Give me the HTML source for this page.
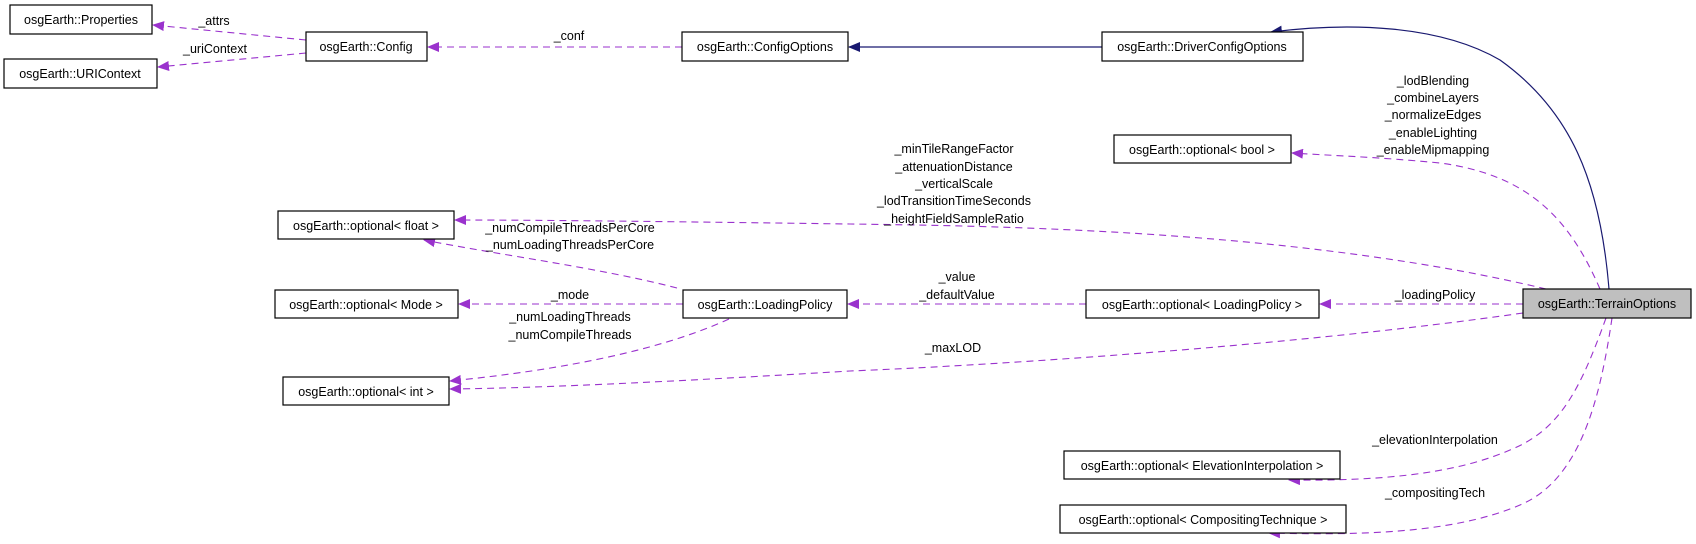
<!DOCTYPE html>
<html><head><meta charset="utf-8"><style>
html,body{margin:0;padding:0;background:#fff;}
svg{display:block;}
text{font-family:"Liberation Sans",sans-serif;font-size:12.5px;fill:#000;}
</style></head><body>
<svg width="1696" height="544" viewBox="0 0 1696 544" xmlns="http://www.w3.org/2000/svg">
<defs>
<marker id="p" markerWidth="12" markerHeight="10" refX="11" refY="5" orient="auto" markerUnits="userSpaceOnUse"><path d="M0,0 L12,5 L0,10 z" fill="#9a32cd"/></marker>
<marker id="n" markerWidth="12" markerHeight="10" refX="11" refY="5" orient="auto" markerUnits="userSpaceOnUse"><path d="M0,0 L12,5 L0,10 z" fill="#191970"/></marker>
</defs>
<g fill="none" stroke="#9a32cd" stroke-width="1.1" stroke-dasharray="7,5">
<path d="M306,40 L153,25" marker-end="url(#p)"/>
<path d="M306,53 L158,67" marker-end="url(#p)"/>
<path d="M682,47 L428,47" marker-end="url(#p)"/>
<path d="M1600,289 C1570,220 1530,175 1440,163 C1380,157 1320,155 1292,153" marker-end="url(#p)"/>
<path d="M1546,289 C1300,230 1000,226 850,224 C700,222 550,220 455,220" marker-end="url(#p)"/>
<path d="M1523,304 L1320,304" marker-end="url(#p)"/>
<path d="M1086,304 L848,304" marker-end="url(#p)"/>
<path d="M683,304 L459,304" marker-end="url(#p)"/>
<path d="M677,288 C600,268 500,255 424,240" marker-end="url(#p)"/>
<path d="M729,319 C650,355 540,372 450,381" marker-end="url(#p)"/>
<path d="M1523,313 C1300,345 1000,365 850,371 C700,380 550,388 450,389" marker-end="url(#p)"/>
<path d="M1606,318 C1580,390 1560,430 1510,450 C1450,476 1370,481 1289,480" marker-end="url(#p)"/>
<path d="M1612,318 C1600,400 1580,480 1520,505 C1450,535 1350,535 1269,533" marker-end="url(#p)"/>
</g>
<g fill="none" stroke="#191970" stroke-width="1.2">
<path d="M1102,47 L849,47" marker-end="url(#n)"/>
<path d="M1609,289 C1600,180 1570,110 1500,60 C1440,25 1350,22 1271,32" marker-end="url(#n)"/>
</g>
<g stroke="#000" stroke-width="1.2" fill="#fff">
<rect x="10" y="5" width="142" height="29"/>
<rect x="4" y="59" width="153" height="29"/>
<rect x="306" y="32" width="121" height="29"/>
<rect x="682" y="32" width="166" height="29"/>
<rect x="1102" y="32" width="201" height="29"/>
<rect x="1114" y="135" width="177" height="28"/>
<rect x="278" y="211" width="176" height="28"/>
<rect x="275" y="290" width="183" height="28"/>
<rect x="683" y="290" width="164" height="28"/>
<rect x="1086" y="290" width="233" height="28"/>
<rect x="1523" y="289" width="168" height="29" fill="#bfbfbf"/>
<rect x="283" y="377" width="166" height="28"/>
<rect x="1064" y="451" width="276" height="28"/>
<rect x="1060" y="505" width="286" height="28"/>
</g>
<g text-anchor="middle">
<text x="81" y="24">osgEarth::Properties</text>
<text x="80" y="78">osgEarth::URIContext</text>
<text x="366" y="51">osgEarth::Config</text>
<text x="765" y="51">osgEarth::ConfigOptions</text>
<text x="1202" y="51">osgEarth::DriverConfigOptions</text>
<text x="1202" y="154">osgEarth::optional&lt; bool &gt;</text>
<text x="366" y="230">osgEarth::optional&lt; float &gt;</text>
<text x="366" y="309">osgEarth::optional&lt; Mode &gt;</text>
<text x="765" y="309">osgEarth::LoadingPolicy</text>
<text x="1202" y="309">osgEarth::optional&lt; LoadingPolicy &gt;</text>
<text x="1607" y="308">osgEarth::TerrainOptions</text>
<text x="366" y="396">osgEarth::optional&lt; int &gt;</text>
<text x="1202" y="470">osgEarth::optional&lt; ElevationInterpolation &gt;</text>
<text x="1203" y="524">osgEarth::optional&lt; CompositingTechnique &gt;</text>

<text x="214" y="25">_attrs</text>
<text x="215" y="53">_uriContext</text>
<text x="569" y="40">_conf</text>
<text x="570" y="232">_numCompileThreadsPerCore</text>
<text x="570" y="249">_numLoadingThreadsPerCore</text>
<text x="570" y="299">_mode</text>
<text x="570" y="321">_numLoadingThreads</text>
<text x="570" y="339">_numCompileThreads</text>
<text x="1433" y="85">_lodBlending</text>
<text x="1433" y="102">_combineLayers</text>
<text x="1433" y="119">_normalizeEdges</text>
<text x="1433" y="137">_enableLighting</text>
<text x="1433" y="154">_enableMipmapping</text>
<text x="954" y="153">_minTileRangeFactor</text>
<text x="954" y="171">_attenuationDistance</text>
<text x="954" y="188">_verticalScale</text>
<text x="954" y="205">_lodTransitionTimeSeconds</text>
<text x="954" y="223">_heightFieldSampleRatio</text>
<text x="957" y="281">_value</text>
<text x="957" y="299">_defaultValue</text>
<text x="1435" y="299">_loadingPolicy</text>
<text x="953" y="352">_maxLOD</text>
<text x="1435" y="444">_elevationInterpolation</text>
<text x="1435" y="497">_compositingTech</text>
</g>
</svg>
</body></html>
